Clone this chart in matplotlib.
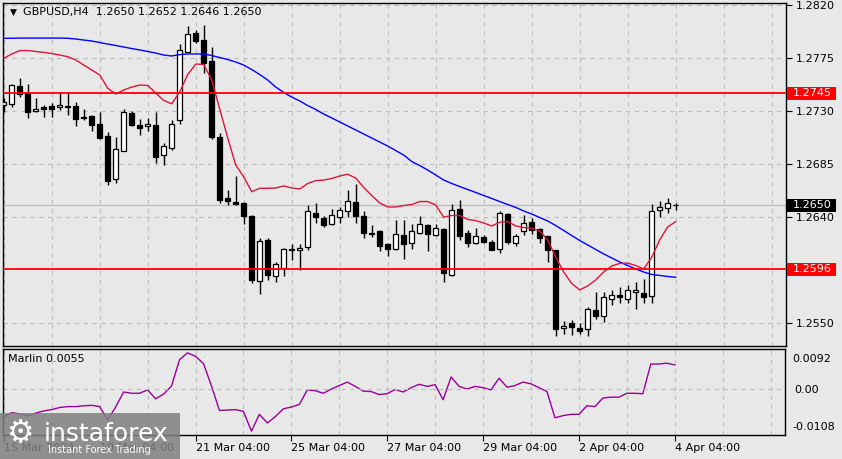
import numpy as np
import matplotlib.pyplot as plt
from matplotlib.patches import Rectangle

# GBPUSD H4 candles, 15 Mar .. 4 Apr 2024
opens = [1.2735, 1.2736, 1.2751, 1.2745, 1.2730, 1.2733, 1.2734, 1.2733, 1.2734, 1.2734,
         1.2725, 1.2726, 1.2719, 1.2709, 1.2672, 1.2696, 1.2728, 1.2718, 1.2717, 1.2718,
         1.2693, 1.2699, 1.2722, 1.2780, 1.2796, 1.2790, 1.2772, 1.2708, 1.2656, 1.2653,
         1.2652, 1.2641, 1.2586, 1.2621, 1.2590, 1.2597, 1.2613, 1.2612, 1.2615, 1.2644,
         1.2639, 1.2634, 1.2640, 1.2645, 1.2653, 1.2641, 1.2627, 1.2628, 1.2617, 1.2613,
         1.2625, 1.2618, 1.2627, 1.2633, 1.2625, 1.2630, 1.2591, 1.2647, 1.2627, 1.2618,
         1.2623, 1.2619, 1.2613, 1.2643, 1.2618, 1.2628, 1.2636, 1.2630, 1.2624, 1.2612,
         1.2546, 1.2550, 1.2546, 1.2545, 1.2561, 1.2556, 1.2571, 1.2574, 1.2571, 1.2577,
         1.2576, 1.2573, 1.2646, 1.2648, 1.2650]
highs = [1.2741, 1.2753, 1.2758, 1.2753, 1.2741, 1.2735, 1.2737, 1.2745, 1.2745, 1.2738,
         1.2732, 1.2727, 1.2729, 1.2712, 1.2708, 1.2732, 1.2730, 1.2723, 1.2724, 1.2729,
         1.2703, 1.2722, 1.2787, 1.2802, 1.2799, 1.2803, 1.2784, 1.2711, 1.2663, 1.2675,
         1.2653, 1.2642, 1.2622, 1.2622, 1.2602, 1.2614, 1.2617, 1.2617, 1.2650, 1.2652,
         1.2641, 1.2647, 1.2649, 1.2663, 1.2668, 1.2645, 1.2633, 1.2629, 1.2618, 1.2638,
         1.2638, 1.2634, 1.2641, 1.2634, 1.2634, 1.2631, 1.2651, 1.2655, 1.2629, 1.2631,
         1.2625, 1.2621, 1.2645, 1.2644, 1.2626, 1.2642, 1.2639, 1.2631, 1.2624, 1.2612,
         1.2552, 1.2553, 1.2550, 1.2564, 1.2577, 1.2577, 1.2578, 1.2581, 1.2583, 1.2585,
         1.2588, 1.2651, 1.2654, 1.2656, 1.2652]
lows = [1.2729, 1.2733, 1.2742, 1.2724, 1.2729, 1.2725, 1.2725, 1.2731, 1.2727, 1.2717,
        1.2722, 1.2713, 1.2706, 1.2667, 1.2669, 1.2696, 1.2717, 1.2710, 1.2713, 1.2686,
        1.2684, 1.2697, 1.2719, 1.2780, 1.2788, 1.2762, 1.2706, 1.2652, 1.2650, 1.2650,
        1.2634, 1.2584, 1.2575, 1.2587, 1.2585, 1.2590, 1.2604, 1.2595, 1.2612, 1.2635,
        1.2632, 1.2633, 1.2635, 1.2640, 1.2635, 1.2622, 1.2623, 1.2611, 1.2607, 1.2612,
        1.2605, 1.2613, 1.2626, 1.2611, 1.2624, 1.2585, 1.2590, 1.2621, 1.2615, 1.2617,
        1.2618, 1.2612, 1.2610, 1.2617, 1.2616, 1.2625, 1.2626, 1.2618, 1.2602, 1.2539,
        1.2541, 1.2540, 1.2541, 1.2539, 1.2554, 1.2551, 1.2566, 1.2567, 1.2567, 1.2562,
        1.2567, 1.2567, 1.2640, 1.2644, 1.2646]
closes = [1.2738, 1.2752, 1.2744, 1.2729, 1.2732, 1.2732, 1.2732, 1.2735, 1.2733, 1.2723,
          1.2724, 1.2718, 1.2707, 1.2671, 1.2698, 1.2729, 1.2718, 1.2716, 1.2719, 1.2691,
          1.2700, 1.2719, 1.2782, 1.2795, 1.2789, 1.2771, 1.2708, 1.2655, 1.2654, 1.2651,
          1.2641, 1.2587, 1.2620, 1.2591, 1.2600, 1.2613, 1.2612, 1.2614, 1.2645, 1.2640,
          1.2633, 1.2642, 1.2646, 1.2654, 1.2641, 1.2627, 1.2626, 1.2616, 1.2613, 1.2626,
          1.2617, 1.2628, 1.2634, 1.2626, 1.2631, 1.2593, 1.2646, 1.2624, 1.2618, 1.2624,
          1.2619, 1.2612, 1.2644, 1.2619, 1.2624, 1.2635, 1.2629, 1.2622, 1.2612, 1.2545,
          1.2548, 1.2547, 1.2544, 1.2562, 1.2556, 1.2572, 1.2574, 1.2572, 1.2578, 1.2578,
          1.2572, 1.2645, 1.2649, 1.2652, 1.2650]

# slow MA (blue) and fast MA (red)
ma_slow = [1.27916, 1.27916, 1.27918, 1.27918, 1.27918, 1.27918, 1.27918, 1.27918, 1.27916, 1.27910,
           1.27901, 1.27893, 1.27880, 1.27867, 1.27855, 1.27842, 1.27829, 1.27817, 1.27804, 1.27791,
           1.27774, 1.27766, 1.27778, 1.27783, 1.27783, 1.27783, 1.27770, 1.27753, 1.27736, 1.27715,
           1.27689, 1.27651, 1.27609, 1.27562, 1.27503, 1.27457, 1.27418, 1.27385, 1.27346, 1.27313,
           1.27274, 1.27241, 1.27207, 1.27173, 1.27139, 1.27105, 1.27071, 1.27037, 1.27003, 1.26965,
           1.26927, 1.26872, 1.26838, 1.26800, 1.26758, 1.26715, 1.26686, 1.26660, 1.26635, 1.26610,
           1.26584, 1.26559, 1.26533, 1.26508, 1.26483, 1.26453, 1.26427, 1.26398, 1.26368, 1.26330,
           1.26288, 1.26245, 1.26203, 1.26165, 1.26127, 1.26089, 1.26055, 1.26021, 1.25991, 1.25962,
           1.25936, 1.25915, 1.25907, 1.25898, 1.25891]
ma_fast = [1.27746, 1.27783, 1.27812, 1.27812, 1.27804, 1.27797, 1.27787, 1.27774, 1.27760, 1.27732,
           1.27689, 1.27647, 1.27605, 1.27492, 1.27444, 1.27478, 1.27503, 1.27520, 1.27516, 1.27452,
           1.27389, 1.27361, 1.27463, 1.27609, 1.27698, 1.27694, 1.27562, 1.27317, 1.27071, 1.26842,
           1.26741, 1.26616, 1.26645, 1.26645, 1.26648, 1.26665, 1.26648, 1.26639, 1.26686, 1.26710,
           1.26715, 1.26728, 1.26749, 1.26764, 1.26732, 1.26652, 1.26584, 1.26521, 1.26487, 1.26487,
           1.26499, 1.26508, 1.26533, 1.26533, 1.26504, 1.26400, 1.26415, 1.26415, 1.26381, 1.26372,
           1.26351, 1.26326, 1.26357, 1.26364, 1.26326, 1.26313, 1.26306, 1.26283, 1.26207, 1.26063,
           1.25936, 1.25839, 1.25784, 1.25818, 1.25868, 1.25936, 1.25987, 1.26008, 1.26012, 1.25991,
           1.25962, 1.26059, 1.26207, 1.26317, 1.26362]

marlin = [-0.0066, -0.0056, -0.0059, -0.0064, -0.0057, -0.0052, -0.0049, -0.0044, -0.0042, -0.0042,
          -0.0040, -0.0039, -0.0042, -0.0073, -0.0043, -0.0008, -0.0011, -0.0011, -0.0003, -0.0024,
          -0.0013, 0.0006, 0.0067, 0.0083, 0.0075, 0.0058, 0.0006, -0.0051, -0.0050, -0.0049,
          -0.0053, -0.0099, -0.0060, -0.0080, -0.0065, -0.0047, -0.0043, -0.0037, -0.0003, -0.0005,
          -0.0011, -0.0001, 0.0007, 0.0015, 0.0005, -0.0006, -0.0007, -0.0014, -0.0012, -0.0002,
          -0.0008, 0.0002, 0.0010, 0.0005, 0.0009, -0.0026, 0.0027, 0.0005, -0.0001, 0.0005,
          0.0002, -0.0003, 0.0024, 0.0003, 0.0007, 0.0015, 0.0011, 0.0002, -0.0007, -0.0068,
          -0.0063, -0.0060, -0.0060, -0.0040, -0.0042, -0.0022, -0.0020, -0.0020, -0.0011, -0.0011,
          -0.0012, 0.0057, 0.0057, 0.0059, 0.0055]

levels = [1.2745, 1.2596]
last_price = 1.2650
price_ticks = [1.2820, 1.2775, 1.2730, 1.2685, 1.2640, 1.2550]
marlin_max, marlin_min = 0.0092, -0.0108
date_pos = [0, 12, 24, 36, 48, 60, 72, 84]
date_labels = ['15 Mar 2024', '19 Mar 04:00', '21 Mar 04:00', '25 Mar 04:00',
               '27 Mar 04:00', '29 Mar 04:00', '2 Apr 04:00', '4 Apr 04:00']

bg = '#e8e8e8'
W, H = 842, 459
fig = plt.figure(figsize=(W / 100, H / 100), dpi=100, facecolor=bg)
plt.rcParams['font.family'] = 'DejaVu Sans'

ax = fig.add_axes([3 / W, 1 - 346 / H, 783 / W, 343 / H], facecolor=bg)
ax2 = fig.add_axes([3 / W, 1 - 435 / H, 782 / W, 86 / H], facecolor=bg, sharex=ax)

x = np.arange(len(opens))
o, h, l, c = map(np.array, (opens, highs, lows, closes))

# candles
ax.vlines(x, l, h, color='black', lw=1, zorder=3)
up = c >= o
body = np.maximum(np.abs(c - o), 0.000005)
ax.bar(x[up], body[up], bottom=o[up], width=0.62, color='white', edgecolor='black', lw=0.9, zorder=4)
ax.bar(x[~up], body[~up], bottom=c[~up], width=0.62, color='black', edgecolor='black', lw=0.9, zorder=4)

ax.plot(x, ma_slow, color='#0000ff', lw=1, zorder=5)
ax.plot(x, ma_fast, color='#dc143c', lw=1, zorder=5)

ax.axhline(last_price, color='#c0c0c0', lw=1, zorder=1)
for lv in levels:
    ax.axhline(lv, color='#ff0000', lw=1.3, zorder=6)

ax.set_xlim(-0.1, 97.8)
ax.set_ylim(1.25309, 1.28215)
ax.set_yticks(price_ticks)
ax.set_yticklabels(['%.4f' % v for v in price_ticks])
ax.yaxis.tick_right()
ax.tick_params(axis='y', direction='out', length=4, pad=3, labelsize=8, colors='black')
ax.tick_params(axis='x', bottom=False, labelbottom=False)
ax.set_xticks(date_pos)
ax.set_xticks(range(0, 98, 6), minor=True)
ax.tick_params(axis='x', which='minor', bottom=False)
ax.grid(True, which='both', color='#bdbdbd', lw=0.8, ls=(0, (4, 4)))
ax.set_axisbelow(True)

# price labels in the right scale
ytr = ax.get_yaxis_transform()
for lv, fc in [(levels[0], '#ff0000'), (levels[1], '#ff0000'), (last_price, 'black')]:
    ax.add_patch(Rectangle((1.0015, lv - 0.00055), 49 / 783, 0.0011, transform=ytr,
                           facecolor=fc, edgecolor='none', clip_on=False, zorder=10))
    ax.text(1 + 7 / 783, lv, '%.4f' % lv, transform=ytr, color='white', fontsize=8,
            va='center', ha='left', zorder=11, clip_on=False)

ax.text(7 / 783, 1 - 9.5 / 343, '\u25bc', transform=ax.transAxes, fontsize=6.5, va='center', ha='left')
ax.text(20 / 783, 1 - 9.5 / 343, 'GBPUSD,H4  %.4f %.4f %.4f %.4f' % (opens[-1], highs[-1], lows[-1], closes[-1]),
        transform=ax.transAxes, fontsize=8, va='center', ha='left')

# Marlin
ax2.plot(x, marlin, color='#990099', lw=1)
ax2.set_ylim(marlin_min, marlin_max)
ax2.set_yticks([0.0])
ax2.set_yticklabels(['0.00'])
ax2.yaxis.tick_right()
ax2.tick_params(axis='y', length=0, pad=7, labelsize=8)
ax2.text(1 + 7 / 782, 1 - 10 / 86, '%.4f' % marlin_max, transform=ax2.transAxes,
         fontsize=8, va='center', ha='left')
ax2.text(1 + 7 / 782, 8 / 86, '%.4f' % marlin_min, transform=ax2.transAxes,
         fontsize=8, va='center', ha='left')
ax2.axhline(0, color='#bdbdbd', lw=0.8, ls=(0, (4, 4)))
ax2.set_xticks(date_pos)
ax2.set_xticklabels(date_labels)
ax2.set_xticks(range(0, 98, 6), minor=True)
ax2.tick_params(axis='x', which='major', length=4, pad=2, labelsize=8, direction='out')
ax2.tick_params(axis='x', which='minor', length=0)
for t in ax2.get_xticklabels():
    t.set_ha('left')
ax2.grid(True, axis='x', which='both', color='#bdbdbd', lw=0.8, ls=(0, (4, 4)))
ax2.text(5 / 782, 1 - 10 / 86, 'Marlin %.4f' % marlin[-1], transform=ax2.transAxes,
         fontsize=8, va='center', ha='left')

for a in (ax, ax2):
    for s in a.spines.values():
        s.set_color('black')
        s.set_linewidth(1)

# watermark
fig.patches.append(Rectangle((0, 0), 180 / W, 46 / H, transform=fig.transFigure,
                             facecolor='#808080', alpha=0.85, edgecolor='none', zorder=20))
fig.text(6 / W, 1 - 434 / H, '\u2699', fontsize=22, color='white', va='center', ha='left', zorder=21)
fig.text(44 / W, 1 - 434 / H, 'instaforex', fontsize=18, color='white', va='center', ha='left', zorder=21)
fig.text(48 / W, 1 - 450 / H, 'Instant Forex Trading', fontsize=7, color='white', va='center', ha='left', zorder=21)

fig.savefig('out.png', dpi=100, facecolor=bg)
